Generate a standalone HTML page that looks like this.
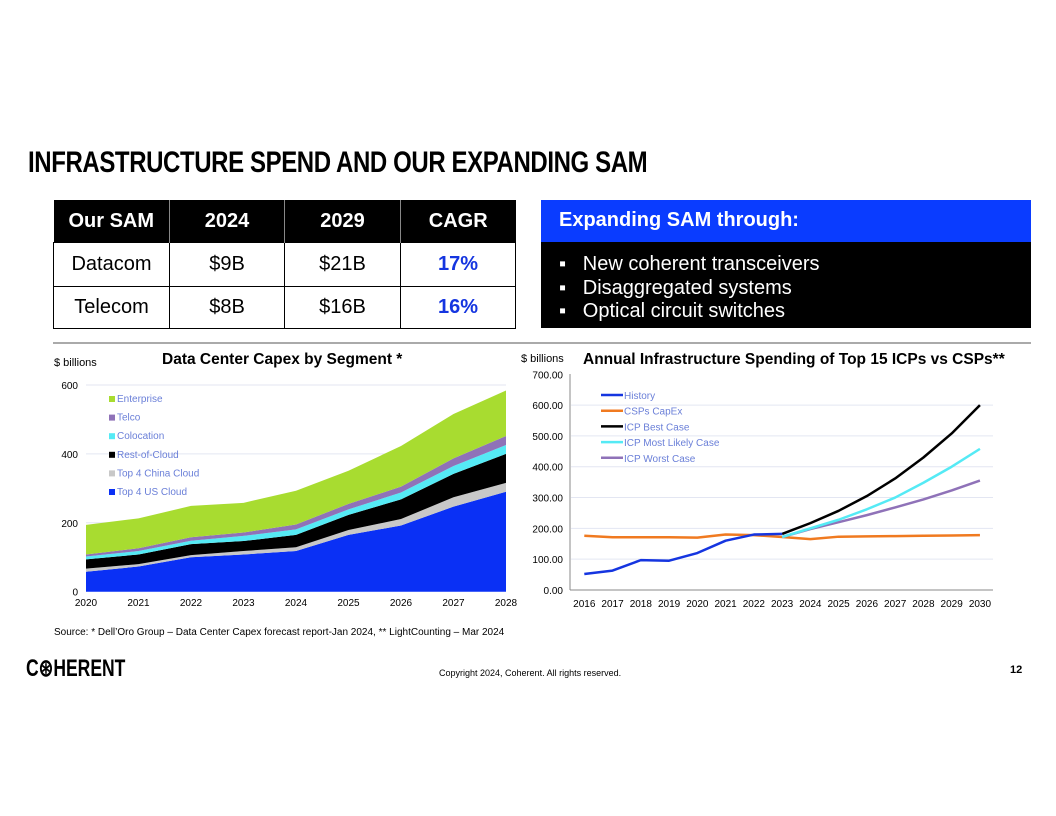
<!DOCTYPE html>
<html><head><meta charset="utf-8"><style>
body{margin:0;width:1056px;height:816px;background:#fff;position:relative;overflow:hidden;font-family:"Liberation Sans",sans-serif}
.abs{position:absolute}
table{border-collapse:collapse;table-layout:fixed}
</style></head><body>
<div class="abs" style="left:28px;top:146px;font-size:30px;font-weight:bold;white-space:nowrap;transform:scaleX(0.8);transform-origin:left top;letter-spacing:-0.5px">INFRASTRUCTURE SPEND AND OUR EXPANDING SAM</div>

<table class="abs" style="left:53px;top:200px;width:462px;height:128px;font-size:20px;text-align:center">
<colgroup><col style="width:116px"><col style="width:115px"><col style="width:116px"><col style="width:115px"></colgroup>
<tr style="background:#000;color:#fff;font-weight:bold;height:42px"><td style="border-right:1px solid #888;padding-top:3px">Our SAM</td><td style="border-right:1px solid #888;padding-top:3px">2024</td><td style="border-right:1px solid #888;padding-top:3px">2029</td><td style="padding-top:3px">CAGR</td></tr>
<tr style="height:44px"><td style="border:1.5px solid #000">Datacom</td><td style="border:1.5px solid #000">$9B</td><td style="border:1.5px solid #000">$21B</td><td style="border:1.5px solid #000;color:#1535e0;font-weight:bold">17%</td></tr>
<tr style="height:42px"><td style="border:1.5px solid #000">Telecom</td><td style="border:1.5px solid #000">$8B</td><td style="border:1.5px solid #000">$16B</td><td style="border:1.5px solid #000;color:#1535e0;font-weight:bold">16%</td></tr>
</table>

<div class="abs" style="left:541px;top:200px;width:490px;height:128px;background:#000;color:#fff">
<div style="background:#0a3cff;height:42px;font-size:20px;font-weight:bold;padding-left:18px;line-height:40px">Expanding SAM through:</div>
<div style="font-size:20px;line-height:23.5px;padding:11px 0 0 18px">
<div>▪&nbsp;&nbsp;&nbsp;New coherent transceivers</div><div>▪&nbsp;&nbsp;&nbsp;Disaggregated systems</div><div>▪&nbsp;&nbsp;&nbsp;Optical circuit switches</div></div>
</div>

<div class="abs" style="left:53px;top:342px;width:978px;height:2px;background:#aaa"></div>

<svg class="abs" style="left:0;top:0" width="1056" height="816" id="charts">
<text x="54" y="366" font-size="11">$ billions</text>
<text x="162" y="364" font-size="15.5" font-weight="bold">Data Center Capex by Segment *</text>
<text x="521" y="362" font-size="11">$ billions</text>
<text x="583" y="364" font-size="15.5" font-weight="bold">Annual Infrastructure Spending of Top 15 ICPs vs CSPs**</text>
<g id="left"></g><g id="right"></g>
</svg>

<div class="abs" style="left:54px;top:627px;font-size:10px">Source: * Dell’Oro Group – Data Center Capex forecast report-Jan 2024, ** LightCounting – Mar 2024</div>
<div class="abs" style="left:26px;top:654px;font-size:24px;font-weight:bold;transform:scaleX(0.73);transform-origin:left top;letter-spacing:0px">C⊛HERENT</div>
<div class="abs" style="left:439px;top:668px;font-size:9px">Copyright 2024, Coherent. All rights reserved.</div>
<div class="abs" style="left:1010px;top:664px;font-size:11px;font-weight:bold">12</div>

<script>
const NS='http://www.w3.org/2000/svg';
const years=[2020,2021,2022,2023,2024,2025,2026,2027,2028];
const usCloud=[58,73,100,108,118,165,192,247,290];
const chinaCloud=[9,7,6,10,11,14,19,27,26];
const restCloud=[27,28,32,29,36,44,57,68,84];
const colocation=[8,10,10,15,16,16,20,23,26];
const telco=[6,8,10,10,14,16,17,22,26];
const enterprise=[86,87,91,86,98,96,118,129,132];
const leftTicks=[0,200,400,600];

const rYears=[2016,2017,2018,2019,2020,2021,2022,2023,2024,2025,2026,2027,2028,2029,2030];
const history=[52,63,97,95,120,160,180,182];
const csps=[176,171,171,171,170,180,178,172,165,173,174,175,176,177,178];
const bestCase=[182,217,257,305,362,430,508,600];
const likelyCase=[172,200,228,262,300,348,400,458];
const worstCase=[172,198,220,243,268,294,323,355];
const rightTicks=[0,100,200,300,400,500,600,700];

function mk(tag,attrs,parent){const e=document.createElementNS(NS,tag);for(const k in attrs)e.setAttribute(k,attrs[k]);parent.appendChild(e);return e;}
const L=document.getElementById('left'), R=document.getElementById('right');
const lx=y=>86+(y-2020)*52.5, ly=v=>591.7-v*(206.7/600);
leftTicks.forEach(t=>{
  if(t>0){const g=mk('line',{x1:86,x2:506,y1:ly(t),y2:ly(t),stroke:'#e3e6f2','stroke-width':1},L);}
  const tx=mk('text',{x:78,y:ly(t)+4,'font-size':10,'text-anchor':'end'},L);tx.textContent=t;
  
});
years.forEach(y=>{const tx=mk('text',{x:lx(y),y:606,'font-size':10,'text-anchor':'middle'},L);tx.textContent=y;
  });
const series=[[usCloud,'#0a30f5','top-4-us-cloud'],[chinaCloud,'#c8c8c8','top-4-china-cloud'],[restCloud,'#000','rest-of-cloud'],[colocation,'#55eaf5','colocation'],[telco,'#8f72b8','telco'],[enterprise,'#a8dc30','enterprise']];
let base=years.map(()=>0);
series.forEach(([d,c,n])=>{
  const top=base.map((b,i)=>b+d[i]);
  let p='M'+years.map((y,i)=>lx(y)+','+ly(top[i])).join('L');
  for(let i=years.length-1;i>=0;i--)p+='L'+lx(years[i])+','+ly(base[i]);
  const a=mk('path',{d:p+'Z',fill:c},L);
  
  base=top;
});
const leg=[['Enterprise','#a8dc30'],['Telco','#8f72b8'],['Colocation','#55eaf5'],['Rest-of-Cloud','#000'],['Top 4 China Cloud','#c8c8c8'],['Top 4 US Cloud','#0a30f5']];
leg.forEach(([t,c],i)=>{const y=401+i*18.6;
  mk('rect',{x:109,y:y-5,width:6,height:6,fill:c},L);
  const tx=mk('text',{x:117,y:y+1,'font-size':10,fill:'#6a7fd8'},L);tx.textContent=t;
  });
const rx=y=>584.3+(y-2016)*28.26, ry=v=>590-v*(215.7/700);
rightTicks.forEach(t=>{
  if(t>0&&t<700){const g=mk('line',{x1:571,x2:993,y1:ry(t),y2:ry(t),stroke:'#e3e6f2'},R);}
  const tx=mk('text',{x:563,y:ry(t)+4,'font-size':10,'text-anchor':'end'},R);tx.textContent=t.toFixed(2);
  });
mk('line',{x1:570,x2:570,y1:374,y2:590,stroke:'#888'},R);
mk('line',{x1:570,x2:993,y1:590,y2:590,stroke:'#888'},R);
rYears.forEach(y=>{const tx=mk('text',{x:rx(y),y:607,'font-size':10,'text-anchor':'middle'},R);tx.textContent=y;
  });
function line(d,start,c,n){const p='M'+d.map((v,i)=>rx(start+i)+','+ry(v)).join('L');
  const e=mk('path',{d:p,fill:'none',stroke:c,'stroke-width':2.5,'stroke-linejoin':'round'},R);
  }
line(csps,2016,'#f07a20','csps-capex');
line(worstCase,2023,'#8f72b8','icp-worst');
line(likelyCase,2023,'#55eaf5','icp-likely');
line(bestCase,2023,'#000','icp-best');
line(history,2016,'#1535e0','history');
const rl=[['History','#1535e0'],['CSPs CapEx','#f07a20'],['ICP Best Case','#000'],['ICP Most Likely Case','#55eaf5'],['ICP Worst Case','#8f72b8']];
rl.forEach(([t,c],i)=>{const y=395+i*15.7;
  mk('line',{x1:601,x2:623,y1:y,y2:y,stroke:c,'stroke-width':2.5},R);
  const tx=mk('text',{x:624,y:y+4,'font-size':10,fill:'#6a7fd8'},R);tx.textContent=t;
  });
</script>
</body></html>
